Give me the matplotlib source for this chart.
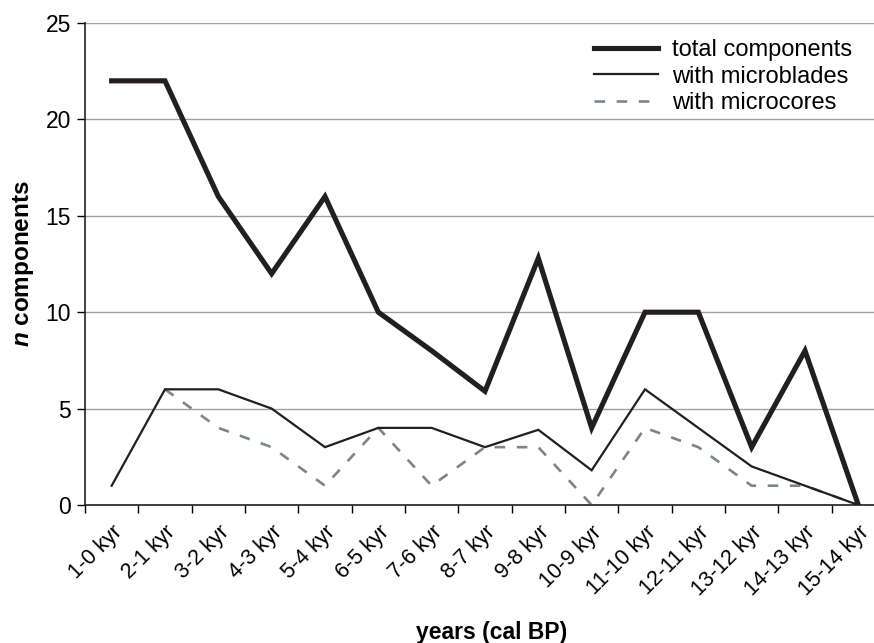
#!/usr/bin/env python3
import numpy as np
import matplotlib
matplotlib.use("Agg")
import matplotlib.pyplot as plt

periods = ["1-0 kyr", "2-1 kyr", "3-2 kyr", "4-3 kyr", "5-4 kyr", "6-5 kyr",
           "7-6 kyr", "8-7 kyr", "9-8 kyr", "10-9 kyr", "11-10 kyr",
           "12-11 kyr", "13-12 kyr", "14-13 kyr", "15-14 kyr"]
total_components = [22, 22, 16, 12, 16, 10, 8, 5.9, 12.8, 4, 10, 10, 3, 8, 0]
with_microblades = [1, 6, 6, 5, 3, 4, 4, 3, 3.9, 1.8, 6, 4, 2, 1, 0]
with_microcores = [np.nan, 6, 4, 3, 1, 4, 1, 3, 3, 0, 4, 3, 1, 1, 0]


def main():
    plt.rcParams['font.family'] = ['Liberation Sans', 'DejaVu Sans']
    plt.rcParams['mathtext.fontset'] = 'custom'
    plt.rcParams['mathtext.bfit'] = 'Liberation Sans:italic:bold'
    plt.rcParams['mathtext.rm'] = 'Liberation Sans:bold'

    fig = plt.figure(figsize=(8.74, 6.43), dpi=100)
    ax = fig.add_axes([85 / 874, 1 - 505 / 643, 800 / 874, 482 / 643])

    x = np.arange(len(periods))
    ink = "#231f20"
    ax.plot(x, total_components, color=ink, lw=3.7, solid_joinstyle="miter",
            label="total components", zorder=4)
    ax.plot(x, with_microblades, color=ink, lw=1.6, solid_joinstyle="miter",
            label="with microblades", zorder=3)
    ax.plot(x, with_microcores, color="#7d858a", lw=1.9, linestyle=(0, (4, 4.4)),
            label="with microcores", zorder=2)

    ax.set_xlim(-0.5, len(periods) - 0.5)
    ax.set_ylim(0, 25)
    ax.set_yticks(range(0, 26, 5))
    ax.yaxis.grid(True, color="#a0a0a0", lw=1.0, zorder=0)
    ax.set_axisbelow(True)

    ax.set_xticks(x)
    ax.set_xticklabels(periods, rotation=45, ha="right", va="top",
                       rotation_mode="anchor")
    ax.set_xticks(np.arange(-0.5, len(periods), 1.0), minor=True)
    ax.tick_params(axis="x", which="major", length=0, pad=12, labelsize=15.5)
    ax.tick_params(axis="x", which="minor", length=6, width=1.0, direction="out")
    ax.tick_params(axis="y", length=6, width=1.0, pad=4, labelsize=16.5)

    for side in ("top", "right"):
        ax.spines[side].set_visible(False)
    for side in ("left", "bottom"):
        ax.spines[side].set_linewidth(1.2)
        ax.spines[side].set_color(ink)

    ax.set_xlabel("years (cal BP)", fontsize=16.5, fontweight="bold")
    ax.xaxis.set_label_coords((492 - 85) / 800, -(621 - 505) / 482)
    ax.set_ylabel(r"$\mathbfit{n}$ components", fontsize=17.5, fontweight="bold")
    ax.yaxis.set_label_coords((36 - 85) / 800, 0.5)

    fig.legend(loc="upper left", bbox_to_anchor=(594 / 874, 1 - 39 / 643),
               frameon=False, fontsize=17, handlelength=2.7, handletextpad=0.62,
               labelspacing=0.2, borderpad=0, borderaxespad=0)

    fig.savefig("out.png", dpi=100)


if __name__ == '__main__':
    main()
